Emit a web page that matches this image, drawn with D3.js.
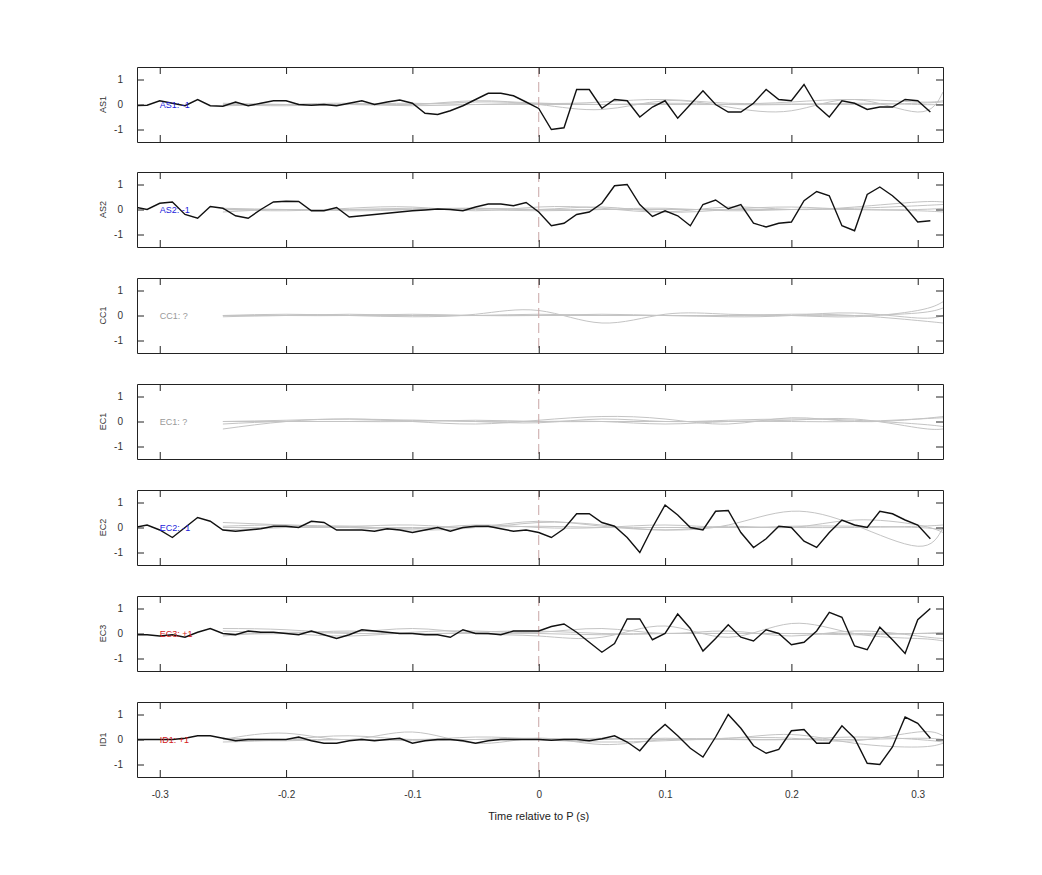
<!DOCTYPE html>
<html><head><meta charset="utf-8">
<script src="https://cdn.jsdelivr.net/npm/d3@7"></script>
<style>body{margin:0;background:#fff}text{font-family:"Liberation Sans",Arial,sans-serif}</style>
</head><body><svg id="c" width="1042" height="875"></svg>
<script>
const channels = ["AS1","AS2","CC1","EC1","EC2","EC3","ID1"];
const labels = ["AS1: -1","AS2: -1","CC1: ?","EC1: ?","EC2: -1","EC3: +1","ID1: +1"];
const labelColors = ["#1a1adb","#1a1adb","#999","#999","#1a1adb","#d42020","#d42020"];
const xTicks = [-0.3,-0.2,-0.1,0,0.1,0.2,0.3];
const yTicks = [-1,0,1];
const blackT = d3.range(64).map(i => -0.32 + i*0.01);
const as1 = [-0.05,-0.03,0.15,0.05,-0.05,0.2,-0.05,-0.07,0.1,-0.05,0.05,0.15,0.15,0.0,-0.03,0.0,-0.05,0.05,0.15,0.0,0.1,0.18,0.05,-0.35,-0.4,-0.25,-0.05,0.2,0.45,0.45,0.35,0.1,
  -0.16,-1.0,-0.93,0.6,0.6,-0.15,0.2,0.15,-0.5,-0.1,0.15,-0.55,0.0,0.55,0.0,-0.3,-0.3,0.05,0.6,0.2,0.15,0.8,-0.05,-0.5,0.15,0.05,-0.2,-0.1,-0.1,0.2,0.15,-0.3];
const as2 = [0.1,0.0,0.25,0.3,-0.2,-0.35,0.12,0.05,-0.25,-0.35,0.0,0.3,0.33,0.32,-0.05,-0.05,0.08,-0.3,-0.25,-0.2,-0.15,-0.1,-0.05,-0.02,0.02,0.0,-0.05,0.1,0.22,0.22,0.15,0.28,
  -0.1,-0.65,-0.55,-0.2,-0.1,0.25,0.95,1.0,0.2,-0.28,-0.05,-0.25,-0.65,0.2,0.38,0.03,0.2,-0.55,-0.7,-0.55,-0.5,0.35,0.72,0.55,-0.65,-0.85,0.6,0.9,0.55,0.1,-0.5,-0.45];
const ec2 = [0.0,0.1,-0.1,-0.4,0.0,0.4,0.25,-0.1,-0.15,-0.1,-0.05,0.05,0.05,0.0,0.25,0.2,-0.1,-0.1,-0.1,-0.15,-0.05,-0.1,-0.2,-0.1,0.0,-0.15,0.0,0.05,0.05,-0.05,-0.15,-0.1,
  -0.2,-0.4,-0.05,0.55,0.55,0.2,0.05,-0.4,-1.0,0.0,0.9,0.5,0.0,-0.1,0.65,0.68,-0.2,-0.8,-0.45,0.05,0.0,-0.55,-0.8,-0.2,0.3,0.1,0.0,0.65,0.55,0.3,0.1,-0.45];
const ec3 = [-0.05,-0.05,-0.1,-0.05,-0.15,0.05,0.2,0.0,-0.05,0.1,0.05,0.05,0.0,-0.05,0.1,-0.05,-0.2,-0.05,0.15,0.1,0.05,0.0,0.0,-0.05,-0.05,-0.15,0.15,0.0,0.0,-0.05,0.1,0.1,
  0.1,0.28,0.38,0.05,-0.35,-0.75,-0.4,0.58,0.58,-0.25,0.0,0.78,0.2,-0.7,-0.2,0.35,-0.15,-0.3,0.15,0.0,-0.45,-0.35,0.1,0.85,0.65,-0.5,-0.65,0.25,-0.25,-0.8,0.55,1.0];
const id1 = [0.0,0.0,0.0,0.0,0.05,0.15,0.15,0.05,-0.05,0.0,0.0,0.0,0.0,0.1,-0.05,-0.15,-0.15,-0.05,0.0,-0.05,0.0,0.05,-0.15,-0.05,0.0,0.0,-0.05,-0.15,-0.05,0.0,0.0,0.0,
  0.0,-0.03,0.0,0.0,-0.05,0.03,0.15,-0.1,-0.45,0.15,0.6,0.15,-0.35,-0.7,0.1,1.0,0.45,-0.25,-0.55,-0.4,0.35,0.4,-0.15,-0.15,0.55,0.05,-0.95,-1.0,-0.3,0.9,0.65,0.05];
const blackSeries = [as1, as2, null, null, ec2, ec3, id1];
const grayT = [-0.25,-0.2,-0.15,-0.1,-0.05,0,0.05,0.1,0.15,0.2,0.25,0.3,0.32];
const grayAS1 = [[0,0,0,0,0.1,0,-0.2,0.15,-0.1,-0.25,0.2,-0.3,0.5],[-0.05,0,0.05,0,0.15,0.05,0.1,0.2,0.05,0.1,0.2,0.1,0.15],[0,-0.05,0,-0.05,0,0,0,0,0,0.02,0,0.05,0.1],[0.05,0,0,0.05,0,0.05,0,0.05,0,0,0.05,0,0]];
const grayAS2 = [[0,-0.05,0.05,0.1,-0.05,0.1,0.05,-0.1,0.1,0,0.1,0.3,0.3],[-0.1,0,-0.05,0,0.05,0,0.1,-0.1,0,0.1,0,0,0.05],[0.05,0,0,0.05,0,-0.05,0,0.05,-0.05,0,0.05,0.15,0.2],[0,0,0,0,0.05,0,0,0,0,0,0,-0.05,-0.1]];
const grayCC1 = [[0,0.05,0,-0.05,0.05,0.2,-0.3,0.05,0.05,0,-0.05,0.2,0.55],[0,0,0.05,0,0,0,0.05,0,0,0.05,0,-0.2,-0.3],[-0.05,0,0,0,0,0.05,0,0,-0.05,0,0.1,-0.1,0],[0,0,0,0.05,0,0,0,0,0,0,0,0.1,0.3]];
const grayEC1 = [[-0.3,0,0.1,0,-0.1,0.05,0.2,0.1,-0.1,0.15,0,0.1,0.2],[0,0.05,0.1,0.05,0,-0.05,0.1,0,0.05,0.1,0.05,-0.1,-0.2],[-0.1,0,0,0.05,0,0,0,-0.1,0,0.05,0.1,-0.25,-0.3],[0,0,0,0,0.05,0,0,0,0,0,0,0.1,0.15]];
const grayEC2 = [[0.2,0.1,0,-0.1,0,0.25,0.05,-0.1,0.1,0.65,0.1,-0.75,0],[0.05,0.1,0.05,0.1,0,0.2,0.1,-0.1,0.05,0,0.3,0.1,-0.2],[-0.1,0,0.05,-0.05,0.1,0,0,0.1,0,0.05,0.05,0,-0.1],[0,0,0,0,0,0.05,0,0,0,0,0,0.05,0.1]];
const grayEC3 = [[0.2,0.15,0.05,0.2,0,-0.1,-0.15,0.3,-0.15,0.4,0,-0.2,-0.3],[0.1,0,-0.1,0.05,0.1,0.05,0.2,0,0.1,-0.1,0.1,-0.1,-0.2],[-0.1,0.05,0,0,0,0,-0.05,0,0,0,-0.05,0,0.05],[0,0,0.1,0,0.05,0.1,0,0,0,0,0,0,0]];
const grayID1 = [[0,0.25,0,0.3,-0.15,0.05,-0.2,0,0.05,0.2,-0.15,-0.3,-0.15],[-0.1,0,0.15,0,0.1,0,-0.1,-0.05,0.05,0.05,-0.05,0.3,0.15],[0,-0.05,0,-0.05,0,0.05,0,0.05,0,0,0,0.05,0],[0.05,0,0,0,0,0,0.05,0,0,0,0.1,0,-0.1]];
const graySeries = [grayAS1, grayAS2, grayCC1, grayEC1, grayEC2, grayEC3, grayID1];

const fmt = v => String(+v.toFixed(2));
const svg = d3.select("#c");
const L = 137, R = 943, tops = [67,172,278,384,490,596,702], H = 75;
const x = d3.scaleLinear().domain([-0.318,0.32]).range([L,R]);
channels.forEach((ch,i) => {
  const y = d3.scaleLinear().domain([-1.5,1.5]).range([tops[i]+H, tops[i]]);
  const g = svg.append("g");
  const clip = "clip"+i;
  g.append("clipPath").attr("id",clip).append("rect").attr("x",L).attr("y",tops[i]).attr("width",R-L).attr("height",H);
  const pg = g.append("g").attr("clip-path",`url(#${clip})`);
  const gl = d3.line().x((d,k)=>x(grayT[k])).y(d=>y(d)).curve(d3.curveNatural);
  graySeries[i].forEach(s => pg.append("path").attr("d",gl(s)).attr("fill","none").attr("stroke","#c4c4c4").attr("stroke-width",1));
  pg.append("line").attr("x1",x(0)).attr("x2",x(0)).attr("y1",tops[i]).attr("y2",tops[i]+H)
    .attr("stroke","#c9a5a5").attr("stroke-dasharray","10,5").attr("stroke-width",1);
  if (blackSeries[i]) {
    const bl = d3.line().x((d,k)=>x(blackT[k])).y(d=>y(d));
    pg.append("path").attr("d",bl(blackSeries[i])).attr("fill","none").attr("stroke","#111").attr("stroke-width",1.4);
  }
  g.append("text").attr("x",x(-0.3)).attr("y",y(0)+3.5).attr("font-size",9).attr("fill",labelColors[i]).text(labels[i]);
  const ax = (a,ty) => g.append("g").attr("transform",ty).call(a).call(s=>s.select(".domain").attr("stroke","#222"));
  ax(d3.axisLeft(y).tickValues(yTicks).tickSizeInner(-7).tickSizeOuter(0).tickPadding(14).tickFormat(fmt), `translate(${L},0)`)
    .selectAll("text").attr("font-size",10).attr("fill","#333");
  ax(d3.axisRight(y).tickValues(yTicks).tickSizeInner(-7).tickSizeOuter(0).tickFormat(""), `translate(${R},0)`);
  ax(d3.axisTop(x).tickValues(xTicks).tickSizeInner(-7).tickSizeOuter(0).tickFormat(""), `translate(0,${tops[i]})`);
  const bx = ax(d3.axisBottom(x).tickValues(xTicks).tickSizeInner(-7).tickSizeOuter(0).tickPadding(14)
      .tickFormat(i===6 ? fmt : ""), `translate(0,${tops[i]+H})`);
  bx.selectAll("text").attr("font-size",10).attr("fill","#333");
  g.selectAll(".tick line").attr("stroke","#222");
  g.append("text").attr("transform",`translate(106,${y(0)}) rotate(-90)`).attr("text-anchor","middle")
    .attr("font-size",9).attr("fill","#333").text(ch);
});
svg.append("text").attr("x",x(0)).attr("y",820).attr("text-anchor","middle").attr("font-size",11).attr("fill","#222").text("Time relative to P (s)");
</script></body></html>
